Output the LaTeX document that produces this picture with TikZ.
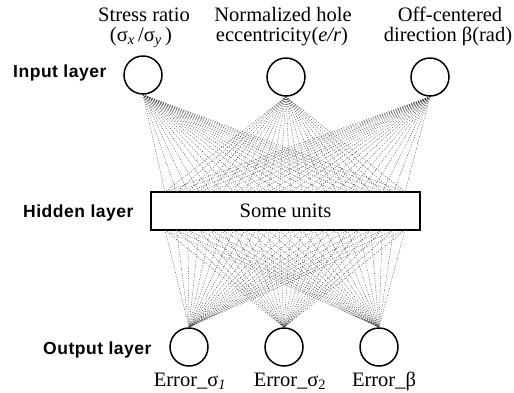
\documentclass[tikz,border=0pt]{standalone}
\usepackage{fontspec}
\setmainfont{Liberation Serif}
\newfontfamily\lblfont[LetterSpace=3]{Liberation Sans}
\begin{document}
\begin{tikzpicture}[x=1pt,y=-1pt,
  unit/.style={circle,draw,line width=1.5pt,minimum size=38pt,inner sep=0pt},
  lay/.style={font=\lblfont\bfseries\fontsize{17.5}{20}\selectfont,inner sep=0pt,anchor=base west},
  txt/.style={font=\fontsize{20.5}{24}\selectfont,inner sep=0pt,anchor=base},
  wire/.style={black!75,line width=0.4pt,dash pattern=on 1pt off 1.4pt}]
\useasboundingbox (0,0) rectangle (514,392);
% units
\node[unit] (i1) at (143,75) {};
\node[unit] (i2) at (286,77) {};
\node[unit] (i3) at (430,77) {};
\node[draw,line width=1.3pt,minimum width=269pt,minimum height=38pt,inner sep=0pt,
      font=\fontsize{20.5}{24}\selectfont] (h) at (285.5,211) {Some units};
\node[unit] (o1) at (189,347) {};
\node[unit] (o2) at (284,347) {};
\node[unit] (o3) at (379,347) {};
% labels
\node[txt] (l1a) at (144,21) {Stress ratio};
\node[txt] (l1b) at (141,41) {(σ\textsubscript{\textit{x}}\,/σ\textsubscript{\textit{y}}\,)};
\node[txt] (l2a) at (283,21) {Normalized hole};
\node[txt] (l2b) at (282,41) {eccentricity(\textit{e/r})};
\node[txt] (l3a) at (450,21) {Off-centered};
\node[txt] (l3b) at (448,41) {direction β(rad)};
\node[txt] (e1) at (190,386) {Error\_σ\textsubscript{\textit{1}}};
\node[txt] (e2) at (290,386) {Error\_σ\textsubscript{2}};
\node[txt] (e3) at (384,386) {Error\_β};
\node[lay] (li) at (13,77) {Input layer};
\node[lay] (lh) at (23,217) {Hidden layer};
\node[lay] (lo) at (43,354) {Output layer};
% hidden-unit attachment points
\foreach \k in {0,...,21}{
  \coordinate (t\k) at ({165+\k*240/21},192);
  \coordinate (b\k) at ({165+\k*240/21},230);
}
\foreach \k in {0,...,21}{
  \foreach \n in {i1,i2,i3}{\draw[wire] (\n.south) -- (t\k);}
  \foreach \n in {o1,o2,o3}{\draw[wire] (b\k) -- (\n.north);}
}
\end{tikzpicture}
\end{document}
